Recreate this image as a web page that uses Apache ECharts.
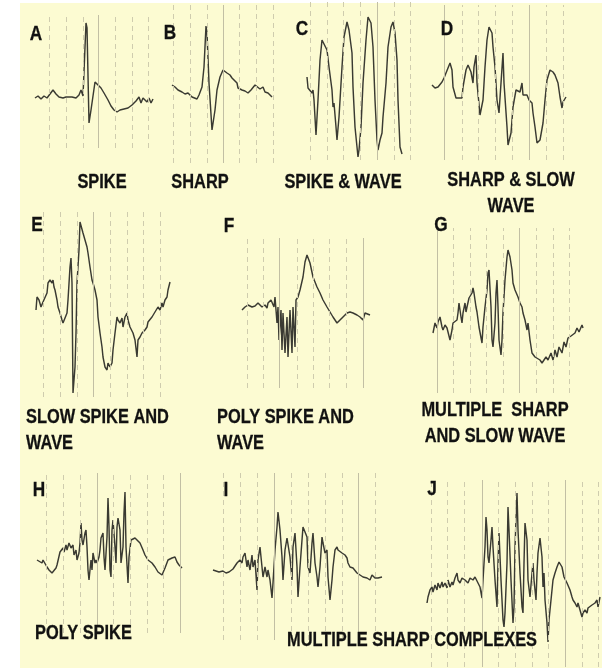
<!DOCTYPE html>
<html>
<head>
<meta charset="utf-8">
<script src="https://cdn.jsdelivr.net/npm/echarts@6/dist/echarts.min.js"></script>
<style>
  html, body { margin: 0; padding: 0; background: #fff; }
  #main { width: 602px; height: 668px; }
</style>
</head>
<body>
<div id="main"></div>
<script>
// EEG traces: [time, amplitude] from the start of each trace
var waveA = [[0,0],[3,2],[6,-1],[9,2],[12,0],[15,4],[18,8],[21,4],[24,1],[28,0],[31,1],[33,-1],[37,1],[41,0],[44,3],[46,8],[48,2],[49,4],[51,75],[52,70],[54,-25],[56,-12],[60,16],[63,13],[66,10],[69,5],[73,-2],[76,-8],[79,-12],[82,-14],[85,-12],[89,-11],[93,-10],[97,-7],[101,-3],[104,1],[106,-5],[108,0],[110,0],[112,-4],[114,0],[116,-5],[118,-1]];
var waveB = [[0,5],[3,3],[6,0],[10,-2],[13,-4],[16,-3],[20,-7],[21,-5],[25,-9],[27,-5],[30,3],[32,23],[34,64],[35,57],[37,7],[40,-40],[43,-20],[45,0],[48,13],[51,20],[52,22],[55,17],[58,15],[60,12],[61,13],[65,7],[66,2],[70,0],[73,-1],[76,-3],[79,0],[81,-2],[83,5],[85,3],[88,1],[91,3],[93,-2],[96,-3],[100,-7]];
var waveC = [[0,13],[1,2],[3,0],[5,-3],[6,0],[7,-10],[9,-45],[11,-10],[13,30],[15,50],[17,48],[20,40],[22,23],[25,0],[26,-17],[27,-13],[29,-37],[30,-50],[32,-27],[35,23],[37,53],[40,68],[42,60],[45,37],[46,3],[48,-37],[50,-57],[51,-67],[52,-60],[54,-37],[56,7],[59,50],[61,73],[64,67],[66,43],[68,-10],[70,-50],[71,-60],[73,-50],[75,-43],[76,-27],[79,7],[81,43],[84,63],[86,68],[88,57],[90,30],[91,-10],[93,-57],[95,-64]];
var waveD = [[0,0],[3,-3],[6,-2],[10,3],[12,7],[14,5],[16,17],[18,22],[20,15],[21,-2],[24,-13],[26,-15],[30,-13],[31,-2],[34,15],[36,20],[39,13],[41,2],[42,18],[44,30],[45,2],[48,-30],[51,-15],[53,18],[55,45],[57,58],[60,52],[61,38],[63,18],[65,-15],[67,-28],[69,2],[71,32],[72,2],[75,-42],[76,-60],[79,-48],[81,-22],[84,-5],[86,-3],[88,-7],[90,2],[91,-10],[93,-12],[95,-10],[97,-15],[100,-18],[101,-28],[103,-42],[105,-58],[108,-55],[111,-38],[113,-15],[115,5],[118,15],[121,13],[123,10],[125,8],[126,2],[128,-12],[130,-23],[131,-17],[134,-12]];
var waveE = [[0,-10],[1,3],[3,0],[5,-7],[7,-2],[9,-3],[11,7],[12,17],[14,20],[16,17],[17,20],[18,13],[19,10],[21,0],[22,-7],[24,-13],[26,-20],[27,-23],[29,-22],[31,-13],[32,0],[34,33],[35,42],[36,17],[37,-93],[39,-67],[40,-33],[41,17],[43,50],[44,78],[46,77],[47,67],[49,60],[51,53],[52,47],[54,33],[56,20],[57,17],[59,10],[61,0],[62,-17],[64,-33],[66,-47],[67,-57],[69,-67],[71,-70],[72,-63],[74,-67],[76,-63],[77,-50],[79,-33],[81,-17],[82,-20],[84,-23],[86,-18],[87,-27],[89,-17],[91,-13],[92,-20],[94,-27],[96,-27],[97,-33],[99,-40],[101,-57],[102,-40],[104,-37],[106,-33],[107,-32],[109,-30],[111,-27],[112,-22],[114,-20],[116,-17],[117,-15],[119,-12],[121,-13],[122,-7],[124,-10],[126,-3],[127,-7],[129,0],[131,3],[132,10],[134,18]];
var waveF = [[0,0],[3,3],[6,5],[10,3],[13,4],[16,7],[20,3],[23,5],[25,2],[26,7],[29,10],[31,12],[32,3],[33,13],[35,-13],[36,3],[37,-30],[39,0],[40,-40],[41,-3],[43,-43],[45,-7],[46,-47],[48,0],[50,-43],[51,3],[53,-37],[54,10],[56,13],[58,20],[61,33],[63,48],[65,55],[66,53],[68,47],[71,33],[75,23],[78,17],[81,10],[85,3],[88,-2],[91,-7],[95,-13],[98,-10],[101,-7],[105,-3],[106,-5],[108,-2],[111,-3],[115,-5],[118,-7],[121,-10],[123,-3],[125,-2],[128,-5]];
var waveG = [[0,-13],[2,-3],[4,-8],[5,-2],[7,3],[9,-7],[10,-10],[12,-5],[14,-8],[15,-10],[17,-20],[19,-10],[20,-3],[22,-5],[24,0],[25,7],[26,17],[28,3],[29,-3],[30,7],[32,17],[33,8],[34,13],[36,22],[39,27],[40,32],[41,27],[43,13],[44,8],[46,-7],[49,-23],[50,-7],[52,13],[54,30],[55,47],[56,50],[58,13],[59,-20],[60,-27],[62,-3],[63,27],[64,40],[65,13],[66,-20],[68,-35],[69,-20],[70,7],[72,40],[74,63],[75,70],[77,63],[79,50],[80,37],[82,30],[84,28],[85,23],[87,17],[89,13],[90,7],[92,0],[94,-10],[95,-3],[97,-20],[99,-33],[102,-37],[104,-38],[107,-40],[109,-43],[111,-40],[113,-37],[115,-40],[118,-33],[120,-40],[122,-30],[124,-37],[126,-27],[129,-33],[131,-22],[133,-27],[135,-18],[138,-16],[140,-17],[142,-13],[144,-8],[146,-12],[149,-5],[150,-8]];
var waveH = [[0,0],[2,2],[5,-3],[6,0],[10,-7],[12,-10],[15,-13],[16,-12],[19,-8],[20,-5],[22,-7],[23,8],[26,12],[27,8],[29,15],[30,10],[32,17],[34,12],[36,15],[37,5],[39,10],[40,0],[42,7],[43,17],[44,37],[45,20],[46,15],[48,27],[49,30],[50,13],[51,-10],[52,-20],[54,0],[55,-10],[56,7],[58,-3],[59,0],[60,-3],[62,3],[63,10],[64,22],[66,27],[67,3],[68,-10],[70,23],[71,62],[72,33],[73,-10],[74,-17],[75,30],[76,40],[78,13],[79,-3],[80,33],[81,42],[83,30],[84,-3],[86,13],[87,47],[88,68],[89,13],[91,-23],[92,3],[94,20],[96,18],[98,22],[100,20],[103,17],[106,10],[108,5],[111,0],[115,-3],[118,-7],[121,-12],[125,-15],[128,-8],[131,0],[135,2],[138,3],[140,-2],[142,-5],[145,-8]];
var waveI = [[0,0],[3,-1],[6,-2],[10,-1],[13,-3],[16,-2],[20,1],[22,3],[24,7],[25,5],[27,10],[29,7],[30,13],[32,17],[34,3],[35,10],[37,0],[39,15],[40,3],[42,10],[44,-20],[45,10],[47,23],[49,3],[50,-7],[52,3],[54,-7],[55,0],[57,-10],[59,-28],[60,-13],[62,20],[64,43],[65,58],[67,40],[69,13],[70,-10],[72,20],[74,32],[75,30],[77,13],[79,-10],[80,23],[82,37],[84,3],[85,-27],[87,3],[89,30],[90,43],[92,45],[94,33],[95,3],[97,-3],[99,27],[100,37],[102,7],[104,-7],[105,-17],[107,3],[109,33],[110,27],[112,17],[114,20],[115,-7],[117,-30],[119,-10],[120,3],[122,20],[124,23],[125,20],[127,18],[129,17],[132,15],[134,12],[135,7],[137,3],[139,5],[140,2],[142,0],[144,-3],[145,-2],[147,-5],[149,-3],[150,-7],[152,-5],[154,-8],[155,-7],[157,-10],[159,-5],[160,-7],[162,-8],[164,-6],[165,-8],[167,-9],[169,-7]];
var waveJ = [[0,-18],[1,-12],[3,-5],[5,-2],[6,-7],[8,0],[10,-5],[11,2],[13,-3],[15,3],[16,-2],[18,2],[20,-3],[21,5],[23,-2],[25,3],[26,0],[28,7],[30,12],[31,5],[33,2],[35,7],[36,8],[38,5],[40,7],[41,2],[43,7],[46,5],[48,8],[51,2],[53,-2],[55,-13],[56,5],[58,38],[59,68],[60,55],[61,28],[62,22],[64,45],[65,58],[66,38],[68,5],[70,-22],[71,22],[72,52],[74,5],[76,-35],[77,-42],[78,-28],[80,22],[81,78],[82,55],[84,5],[86,-38],[87,-22],[88,38],[90,92],[91,55],[93,12],[95,-22],[96,-28],[97,22],[98,62],[100,45],[101,5],[103,-12],[105,12],[106,22],[107,5],[109,-15],[110,12],[111,32],[113,47],[115,28],[116,-2],[117,12],[118,-15],[120,-38],[121,-57],[122,-35],[125,-5],[126,5],[128,12],[130,18],[132,23],[135,18],[137,8],[140,2],[143,-5],[145,-12],[146,-15],[148,-18],[150,-22],[151,-18],[153,-25],[155,-32],[156,-28],[158,-25],[160,-28],[161,-23],[163,-25],[165,-20],[166,-22],[168,-18],[170,-15],[171,-22],[173,-12]];

// chart-paper division lines (time values), heavy = every fifth line
var divA = [14, 31, 48, 63, 80, 97, 113],          heavyA = [63];
var divB = [1, 18, 35, 51, 67, 84, 101],           heavyB = [51];
var divC = [3, 20, 36, 53, 70, 87, 103],           heavyC = [70];
var divD = [12, 30, 46, 63, 80, 97, 114, 131],     heavyD = [12, 97];
var divE = [7, 24, 41, 57, 74, 91, 107, 124],      heavyE = [57];
var divF = [5, 21, 37, 55, 71, 87, 104, 121],      heavyF = [37, 121];
var divG = [4, 20, 37, 53, 70, 86, 103, 120, 136], heavyG = [4, 86];
var divH = [9, 26, 43, 60, 76, 93, 110, 126, 143], heavyH = [60, 143];
var divI = [10, 27, 44, 61, 78, 95, 112, 129, 145, 162], heavyI = [61, 145];
var divJ = [4, 20, 37, 55, 71, 88, 105, 121, 138, 155, 171], heavyJ = [55, 138];

var panelLetters = ['A', 'B', 'C', 'D', 'E', 'F', 'G', 'H', 'I', 'J'];
var captions = [
  ['SPIKE'], ['SHARP'], ['SPIKE & WAVE'], ['SHARP & SLOW', 'WAVE'],
  ['SLOW SPIKE AND', 'WAVE'], ['POLY SPIKE AND', 'WAVE'], ['MULTIPLE  SHARP', 'AND SLOW WAVE'],
  ['POLY SPIKE'], ['MULTIPLE SHARP COMPLEXES']
];

var waves = [waveA, waveB, waveC, waveD, waveE, waveF, waveG, waveH, waveI, waveJ];
var divs = [divA, divB, divC, divD, divE, divF, divG, divH, divI, divJ];
var heavies = [heavyA, heavyB, heavyC, heavyD, heavyE, heavyF, heavyG, heavyH, heavyI, heavyJ];

// layout: grid box in px and amplitude range
var boxes = [
  {left: 35,  top: 15,  width: 118, height: 133, min: -50, max: 83},
  {left: 172, top: 5,   width: 101, height: 158, min: -73, max: 85},
  {left: 307, top: 2,   width: 103, height: 158, min: -70, max: 88},
  {left: 432, top: 5,   width: 134, height: 155, min: -75, max: 80},
  {left: 36,  top: 212, width: 134, height: 185, min: -97, max: 88},
  {left: 242, top: 238, width: 128, height: 150, min: -78, max: 72},
  {left: 433, top: 228, width: 150, height: 165, min: -73, max: 92},
  {left: 37,  top: 473, width: 145, height: 160, min: -73, max: 87},
  {left: 213, top: 473, width: 169, height: 167, min: -70, max: 97},
  {left: 427, top: 480, width: 173, height: 187, min: -82, max: 105}
];
var letterPos = [[36,34],[170,33],[302,29],[447,29],[37,225],[229,226],[441,225],[39,490],[226,490],[432,489]];
var captionPos = [
  {x: 102, y: 182, align: 'center'}, {x: 200, y: 182, align: 'center'},
  {x: 343, y: 182, align: 'center'}, {x: 511, y: 180, align: 'center'},
  {x: 26,  y: 417, align: 'left'},   {x: 217, y: 417, align: 'left'},
  {x: 495, y: 410, align: 'center'}, {x: 35,  y: 633, align: 'left'},
  {x: 412, y: 640, align: 'center'}
];
var lineGap = 26;

var grids = [], xAxes = [], yAxes = [], series = [];
boxes.forEach(function (b, i) {
  grids.push({left: b.left, top: b.top, width: b.width, height: b.height});
  xAxes.push({type: 'value', gridIndex: i, min: 0, max: b.width, show: false});
  yAxes.push({type: 'value', gridIndex: i, min: b.min, max: b.max, show: false});
  series.push({
    type: 'line',
    xAxisIndex: i,
    yAxisIndex: i,
    data: waves[i],
    symbol: 'none',
    clip: false,
    lineStyle: {color: '#3a3a32', width: 1.45},
    markLine: {
      silent: true,
      symbol: ['none', 'none'],
      label: {show: false},
      animation: false,
      data: divs[i].map(function (t) {
        var heavy = heavies[i].indexOf(t) >= 0;
        return {
          xAxis: t,
          lineStyle: {
            color: heavy ? '#c2bfa4' : '#cfccae',
            width: 1,
            type: heavy ? 'solid' : [5, 4]
          }
        };
      })
    },
    z: 3
  });
});

var font = 'bold 21px "Liberation Sans", Arial, sans-serif';
var texts = [{
  type: 'rect', z: -10, silent: true,
  shape: {x: 20, y: 3, width: 582, height: 665},
  style: {fill: '#fcfbd2'}
}];
panelLetters.forEach(function (l, i) {
  texts.push({
    type: 'text', z: 100, x: letterPos[i][0], y: letterPos[i][1], scaleX: 0.82,
    style: {text: l, font: 'bold 21px "Liberation Sans", Arial, sans-serif', fill: '#111',
      stroke: '#111', lineWidth: 0.3,
      align: 'center', textAlign: 'center', verticalAlign: 'middle', textVerticalAlign: 'middle'}
  });
});
captions.forEach(function (lines, i) {
  var p = captionPos[i];
  lines.forEach(function (s, k) {
    texts.push({
      type: 'text', z: 100, x: p.x, y: p.y + k * lineGap, scaleX: 0.78,
      style: {text: s, font: font, fill: '#111', stroke: '#111', lineWidth: 0.3,
        align: p.align, textAlign: p.align, verticalAlign: 'middle', textVerticalAlign: 'middle'}
    });
  });
});

var myChart = echarts.init(document.getElementById('main'));
myChart.setOption({
  animation: false,
  backgroundColor: '#ffffff',
  grid: grids,
  xAxis: xAxes,
  yAxis: yAxes,
  series: series,
  graphic: {elements: texts}
});
</script>
</body>
</html>
